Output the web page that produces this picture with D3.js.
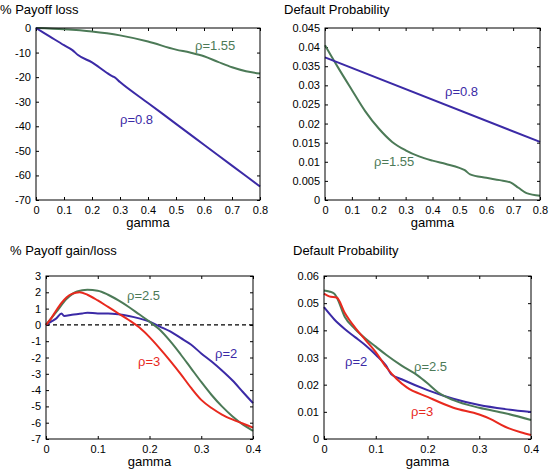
<!DOCTYPE html>
<html><head><meta charset="utf-8">
<script src="https://cdn.jsdelivr.net/npm/d3@7"></script>
<style>
body{margin:0;background:#fff;}
svg text{font-family:"Liberation Sans",Arial,Helvetica,sans-serif;}
</style></head>
<body><svg id="c" width="551" height="473"></svg>
<script>
// ---- Data ----
const blueColor = "#3b2aa6", greenColor = "#4c7a57", redColor = "#e8291e";

// Panel A: % Payoff loss
const gammaA = [0,0.05,0.1,0.13,0.15,0.2,0.25,0.27,0.28,0.3,0.4,0.5,0.6,0.7,0.8];
const lossRho08 = [0,-3.5,-7,-9,-11,-14,-18,-19.5,-20,-22,-30.5,-39,-47.5,-56,-64.5];
const gammaA2 = [0,0.1,0.2,0.3,0.4,0.5,0.55,0.6,0.65,0.7,0.75,0.8];
const lossRho155 = [0,-0.5,-1.4,-3,-5.5,-8.8,-10,-11.5,-13.8,-16,-17.6,-18.5];

// Panel B: Default probability (top)
const gammaB1 = [0,0.8];
const dpRho08 = [0.0373,0.0152];
const gammaB2 = [0,0.05,0.1,0.15,0.2,0.25,0.3,0.35,0.4,0.45,0.5,0.52,0.54,0.6,0.65,0.69,0.72,0.75,0.8];
const dpRho155 = [0.0405,0.0345,0.0288,0.0232,0.0187,0.0152,0.013,0.0114,0.0103,0.0094,0.0084,0.0078,0.0067,0.0058,0.0052,0.0046,0.0032,0.0018,0.0011];

// Panel C: % Payoff gain/loss
const gammaC = [0,0.01,0.02,0.03,0.04,0.05,0.065,0.08,0.1,0.12,0.14,0.16,0.18,0.2,0.22,0.24,0.26,0.28,0.3,0.32,0.34,0.36,0.38,0.4];
const gainRho3 = [0,0.4,0.9,1.35,1.7,1.9,2.0,1.85,1.5,1.1,0.7,0.3,-0.15,-0.75,-1.45,-2.2,-3.0,-3.85,-4.6,-5.1,-5.5,-5.8,-6.05,-6.3];
const gammaC2 = [0,0.02,0.04,0.06,0.08,0.1,0.12,0.14,0.16,0.18,0.2,0.22,0.24,0.26,0.28,0.3,0.32,0.34,0.36,0.38,0.4];
const gainRho25 = [0,0.8,1.6,2.05,2.15,2.1,1.85,1.5,1.1,0.65,0.2,-0.3,-1.0,-1.8,-2.65,-3.5,-4.3,-5.0,-5.6,-6.1,-6.5];
const gammaC3 = [0,0.01,0.02,0.03,0.035,0.05,0.07,0.08,0.1,0.12,0.14,0.16,0.18,0.2,0.22,0.24,0.26,0.28,0.3,0.32,0.34,0.36,0.38,0.4];
const gainRho2 = [0,0.2,0.4,0.7,0.55,0.62,0.7,0.75,0.7,0.7,0.65,0.55,0.4,0.2,-0.1,-0.4,-0.8,-1.2,-1.75,-2.25,-2.8,-3.4,-4.1,-4.8];

// Panel D: Default probability (bottom)
const gammaD1 = [0,0.02,0.04,0.06,0.08,0.1,0.12,0.13,0.15,0.2,0.25,0.3,0.35,0.4];
const dpRho2 = [0.0485,0.044,0.0405,0.0375,0.0345,0.031,0.027,0.0238,0.022,0.018,0.0148,0.0125,0.011,0.0099];
const gammaD2 = [0,0.01,0.02,0.025,0.04,0.06,0.08,0.1,0.12,0.15,0.18,0.2,0.22,0.25,0.3,0.35,0.4];
const dpRho25 = [0.0547,0.0543,0.0535,0.052,0.045,0.0405,0.037,0.034,0.031,0.027,0.0235,0.0205,0.0172,0.0143,0.0115,0.0095,0.007];
const gammaD3 = [0,0.01,0.025,0.04,0.06,0.08,0.1,0.12,0.14,0.16,0.2,0.25,0.3,0.32,0.35,0.38,0.4];
const dpRho3 = [0.0535,0.0525,0.052,0.0465,0.041,0.0365,0.032,0.0265,0.0222,0.019,0.0155,0.0115,0.009,0.0075,0.0045,0.0025,0.0015];

const ticksA_x = [0,0.1,0.2,0.3,0.4,0.5,0.6,0.7,0.8];
const ticksA_y = [0,-10,-20,-30,-40,-50,-60,-70];
const ticksB_y = [0,0.005,0.01,0.015,0.02,0.025,0.03,0.035,0.04,0.045];
const ticksC_x = [0,0.1,0.2,0.3,0.4];
const ticksC_y = [3,2,1,0,-1,-2,-3,-4,-5,-6,-7];
const ticksD_y = [0,0.01,0.02,0.03,0.04,0.05,0.06];

// ---- Drawing ----
const svg = d3.select("#c");

function panel(cfg){
  const g = svg.append("g");
  const x = d3.scaleLinear().domain(cfg.xd).range([cfg.l, cfg.r]);
  const y = d3.scaleLinear().domain(cfg.yd).range([cfg.b, cfg.t]);
  const fmt = v => String(v);
  g.append("g").attr("transform",`translate(0,${cfg.b})`)
    .call(d3.axisBottom(x).tickValues(cfg.xt).tickSizeInner(-3).tickSizeOuter(0).tickPadding(6).tickFormat(fmt))
    .call(s=>{s.select(".domain").remove();s.selectAll("text").attr("font-size",11).attr("fill","#000");});
  g.append("g").attr("transform",`translate(${cfg.l},0)`)
    .call(d3.axisLeft(y).tickValues(cfg.yt).tickSizeInner(-3).tickSizeOuter(0).tickPadding(5).tickFormat(fmt))
    .call(s=>{s.select(".domain").remove();s.selectAll("text").attr("font-size",11).attr("fill","#000");});
  g.append("g").attr("transform",`translate(0,${cfg.t})`)
    .call(d3.axisTop(x).tickValues(cfg.xt).tickSizeInner(-3).tickSizeOuter(0).tickFormat(""))
    .call(s=>s.select(".domain").remove());
  g.append("g").attr("transform",`translate(${cfg.r},0)`)
    .call(d3.axisRight(y).tickValues(cfg.yt).tickSizeInner(-3).tickSizeOuter(0).tickFormat(""))
    .call(s=>s.select(".domain").remove());
  g.selectAll(".tick line").attr("stroke","#000");
  if(cfg.zero){
    g.append("line").attr("x1",cfg.l).attr("x2",cfg.r).attr("y1",y(0)).attr("y2",y(0))
      .attr("stroke","#000").attr("stroke-width",1.2).attr("stroke-dasharray","4,3");
  }
  const line = d3.line().x(d=>x(d[0])).y(d=>y(d[1])).curve(d3.curveMonotoneX);
  cfg.series.forEach(s=>{
    g.append("path").datum(d3.zip(s.x,s.y)).attr("d",line)
      .attr("fill","none").attr("stroke",s.c).attr("stroke-width",2);
  });
  g.append("rect").attr("x",cfg.l).attr("y",cfg.t).attr("width",cfg.r-cfg.l).attr("height",cfg.b-cfg.t)
    .attr("fill","none").attr("stroke","#000").attr("stroke-width",1);
  cfg.labels.forEach(lb=>{
    g.append("text").attr("x",lb.x).attr("y",lb.y).attr("font-size",13).attr("fill",lb.c).text(lb.t);
  });
  g.append("text").attr("x",cfg.tx).attr("y",cfg.ty).attr("font-size",13).attr("fill","#000").text(cfg.title);
  g.append("text").attr("x",(cfg.l+cfg.r)/2).attr("y",cfg.b+27).attr("text-anchor","middle")
    .attr("font-size",13).attr("fill","#000").text("gamma");
}

panel({l:36,r:260,t:28,b:200,xd:[0,0.8],yd:[-70,0],xt:ticksA_x,yt:ticksA_y,
  title:"% Payoff loss",tx:0,ty:14,
  series:[{x:gammaA2,y:lossRho155,c:greenColor},{x:gammaA,y:lossRho08,c:blueColor}],
  labels:[{x:195,y:50,t:"ρ=1.55",c:greenColor},{x:120,y:124,t:"ρ=0.8",c:blueColor}]});

panel({l:325,r:540,t:28,b:200,xd:[0,0.8],yd:[0,0.045],xt:ticksA_x,yt:ticksB_y,
  title:"Default Probability",tx:284,ty:14,
  series:[{x:gammaB2,y:dpRho155,c:greenColor},{x:gammaB1,y:dpRho08,c:blueColor}],
  labels:[{x:445,y:96,t:"ρ=0.8",c:blueColor},{x:374,y:166,t:"ρ=1.55",c:greenColor}]});

panel({l:46,r:253,t:276,b:439,xd:[0,0.4],yd:[-7,3],xt:ticksC_x,yt:ticksC_y,zero:true,
  title:"% Payoff gain/loss",tx:10,ty:255,
  series:[{x:gammaC3,y:gainRho2,c:blueColor},{x:gammaC2,y:gainRho25,c:greenColor},{x:gammaC,y:gainRho3,c:redColor}],
  labels:[{x:127,y:300,t:"ρ=2.5",c:greenColor},{x:215,y:358,t:"ρ=2",c:blueColor},{x:138,y:366,t:"ρ=3",c:redColor}]});

panel({l:324,r:531,t:276,b:439,xd:[0,0.4],yd:[0,0.06],xt:ticksC_x,yt:ticksD_y,
  title:"Default Probability",tx:293,ty:255,
  series:[{x:gammaD1,y:dpRho2,c:blueColor},{x:gammaD2,y:dpRho25,c:greenColor},{x:gammaD3,y:dpRho3,c:redColor}],
  labels:[{x:345,y:366,t:"ρ=2",c:blueColor},{x:414,y:371,t:"ρ=2.5",c:greenColor},{x:411,y:416,t:"ρ=3",c:redColor}]});
</script></body></html>
